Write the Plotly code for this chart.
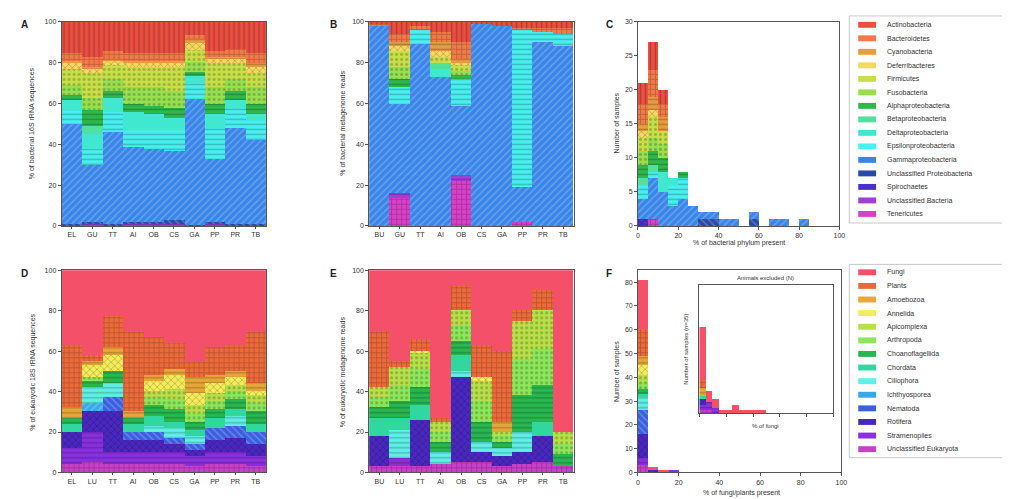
import plotly.graph_objects as go

W, H = 1010, 499

# ---------------- data ----------------
sites_a = ["EL", "GU", "TT", "AI", "OB", "CS", "GA", "PP", "PR", "TB"]
sites_b = ["BU", "GU", "TT", "AI", "OB", "CS", "GA", "PP", "PR", "TB"]
sites_d = ["EL", "LU", "TT", "AI", "OB", "CS", "GA", "PP", "PR", "TB"]
sites_e = ["BU", "LU", "TT", "AI", "OB", "CS", "GA", "PP", "PR", "TB"]

bac_taxa = ["Actinobacteria", "Bacteroidetes", "Cyanobacteria", "Deferribacteres",
            "Firmicutes", "Fusobacteria", "Alphaproteobacteria", "Betaproteobacteria",
            "Deltaproteobacteria", "Epsilonproteobacteria", "Gammaproteobacteria",
            "Unclassified Proteobacteria", "Spirochaetes", "Unclassified Bacteria",
            "Tenericutes"]
euk_taxa = ["Fungi", "Plants", "Amoebozoa", "Annelida", "Apicomplexa", "Arthropoda",
            "Choanoflagellida", "Chordata", "Ciliophora", "Ichthyosporea", "Nematoda",
            "Rotifera", "Stramenopiles", "Unclassified Eukaryota"]

# % per site (rows = sites, columns = taxa in legend order)
a_pct = [
    [15, 4, 1, 3, 8, 5, 2, 0, 5, 7, 49, 0.5, 0, 0, 0.5],
    [17, 5, 1, 2, 12, 6, 8, 4, 7, 8, 28, 1, 0, 1, 0],
    [14, 4, 1, 2, 7, 6, 3, 0, 7, 10, 45, 0.5, 0, 0.5, 0],
    [15, 4, 1, 2, 10, 8, 4, 0, 9, 8, 37, 1, 0, 1, 0],
    [15, 4, 1, 2, 10, 9, 4, 0, 8, 9, 36, 1, 0, 1, 0],
    [15, 4, 1, 2, 12, 8, 5, 0, 6, 10, 34, 2, 0, 1, 0],
    [6.5, 2, 2, 3, 6, 5, 2, 0, 4, 7, 62, 0.5, 0, 0, 0],
    [14, 3, 1, 2, 12, 8, 5, 0, 7, 15, 31, 1, 0, 1, 0],
    [13, 4, 1, 2, 8, 6, 4, 0, 4, 10, 47, 0.5, 0, 0.5, 0],
    [15, 5, 2, 3, 7, 8, 5, 0, 3, 10, 41, 1, 0, 0, 0],
]
b_pct = [
    [1, 1, 0, 0, 0, 0, 0, 0, 0, 0, 98, 0, 0, 0, 0],
    [6, 4, 2, 2, 8, 6, 4, 0, 0, 8, 44, 0, 0, 2, 14],
    [2, 2, 0, 0, 0, 0, 0, 0, 0, 7, 89, 0, 0, 0, 0],
    [5, 5, 4, 3, 3, 0, 0, 3, 4, 0, 73, 0, 0, 0, 0],
    [10, 8, 2, 1, 3, 2, 2, 0, 0, 13, 34, 0, 0, 3, 22],
    [1, 0, 0, 0, 0, 0, 0, 0, 0, 0, 99, 0, 0, 0, 0],
    [2, 0, 0, 0, 0, 0, 0, 0, 0, 0, 98, 0, 0, 0, 0],
    [3, 1, 0, 0, 0, 0, 0, 0, 0, 77, 17, 0, 0, 0, 2],
    [3, 2, 0, 0, 0, 0, 0, 0, 0, 5, 90, 0, 0, 0, 0],
    [3, 3, 0, 0, 0, 0, 0, 0, 0, 6, 88, 0, 0, 0, 0],
]
d_pct = [
    [37, 31, 5, 0, 0, 0, 3, 4, 0, 0, 0, 8, 8, 4],
    [42, 3, 2, 6, 0, 2, 3, 0, 8, 4, 0, 10, 15, 5],
    [23, 15, 4, 8, 0, 0, 6, 0, 7, 0, 7, 20, 6, 4],
    [30, 40, 3, 0, 0, 0, 3, 4, 0, 0, 4, 6, 6, 4],
    [33, 19, 3, 5, 3, 4, 5, 5, 3, 0, 4, 6, 6, 4],
    [36, 13, 3, 7, 5, 5, 6, 3, 5, 0, 3, 4, 6, 4],
    [45, 8, 8, 6, 4, 4, 4, 3, 4, 0, 3, 3, 5, 3],
    [38, 14, 4, 5, 4, 4, 4, 5, 0, 0, 6, 6, 6, 4],
    [37, 13, 3, 4, 3, 4, 5, 3, 5, 0, 6, 7, 6, 4],
    [30, 26, 4, 2, 4, 4, 6, 4, 0, 0, 6, 6, 5, 3],
]
e_pct = [
    [30, 28, 0, 0, 5, 5, 5, 9, 0, 0, 0, 15, 0, 3],
    [45, 3, 0, 0, 9, 8, 8, 6, 14, 0, 0, 0, 4, 3],
    [34, 6, 0, 1, 8, 9, 9, 7, 0, 0, 0, 23, 0, 3],
    [73, 2, 0, 0, 5, 5, 5, 0, 6, 0, 0, 0, 0, 4],
    [8, 12, 0, 0, 7, 8, 7, 8, 3, 0, 0, 42, 0, 5],
    [37, 16, 0, 2, 10, 10, 10, 0, 5, 0, 0, 5, 0, 5],
    [40, 35, 5, 0, 2, 3, 3, 0, 4, 0, 0, 5, 0, 3],
    [20, 5, 0, 0, 19, 18, 18, 0, 10, 0, 0, 6, 0, 4],
    [10, 10, 0, 0, 19, 18, 18, 7, 0, 0, 0, 13, 0, 5],
    [80, 0, 0, 0, 6, 5, 6, 0, 0, 0, 0, 0, 0, 3],
]

# histogram bins (% present), width 5
bin_left = list(range(0, 100, 5))
# C: number of samples per bin, per bacterial taxon (rows = taxa in legend order)
c_counts = [
    [3, 4, 2, 0, 0, 0, 0, 0, 0, 0, 0, 0, 0, 0, 0, 0, 0, 0, 0, 0],
    [3, 4, 2, 0, 0, 0, 0, 0, 0, 0, 0, 0, 0, 0, 0, 0, 0, 0, 0, 0],
    [1, 2, 2, 0, 0, 0, 0, 0, 0, 0, 0, 0, 0, 0, 0, 0, 0, 0, 0, 0],
    [1, 1, 0, 0, 0, 0, 0, 0, 0, 0, 0, 0, 0, 0, 0, 0, 0, 0, 0, 0],
    [2, 3, 2, 0, 0, 0, 0, 0, 0, 0, 0, 0, 0, 0, 0, 0, 0, 0, 0, 0],
    [2, 2, 2, 0, 0, 0, 0, 0, 0, 0, 0, 0, 0, 0, 0, 0, 0, 0, 0, 0],
    [2, 2, 2, 0, 1, 0, 0, 0, 0, 0, 0, 0, 0, 0, 0, 0, 0, 0, 0, 0],
    [1, 1, 0, 0, 0, 0, 0, 0, 0, 0, 0, 0, 0, 0, 0, 0, 0, 0, 0, 0],
    [0, 0, 3, 1, 0, 0, 0, 0, 0, 0, 0, 0, 0, 0, 0, 0, 0, 0, 0, 0],
    [2, 1, 0, 3, 3, 0, 0, 0, 0, 0, 0, 0, 0, 0, 0, 0, 0, 0, 0, 0],
    [3, 6, 5, 3, 4, 3, 1, 1, 1, 1, 0, 1, 0, 1, 1, 0, 1, 0, 0, 0],
    [0, 0, 0, 0, 0, 0, 1, 1, 0, 0, 0, 1, 0, 0, 0, 0, 0, 0, 0, 0],
    [1, 0, 0, 0, 0, 0, 0, 0, 0, 0, 0, 0, 0, 0, 0, 0, 0, 0, 0, 0],
    [0, 0, 0, 0, 0, 0, 0, 0, 0, 0, 0, 0, 0, 0, 0, 0, 0, 0, 0, 0],
    [0, 1, 0, 0, 0, 0, 0, 0, 0, 0, 0, 0, 0, 0, 0, 0, 0, 0, 0, 0],
]
# F: number of samples per bin, per eukaryotic taxon
f_counts = [
    [21, 1, 1, 0] + [0] * 16,
    [11, 0, 0, 0] + [0] * 16,
    [4, 0, 0, 0] + [0] * 16,
    [4, 0, 0, 0] + [0] * 16,
    [3, 0, 0, 0] + [0] * 16,
    [3, 0, 0, 0] + [0] * 16,
    [2, 0, 0, 0] + [0] * 16,
    [2, 0, 0, 0] + [0] * 16,
    [5, 0, 0, 0] + [0] * 16,
    [0, 0, 0, 0] + [0] * 16,
    [10, 0, 0, 0] + [0] * 16,
    [10, 1, 0, 0] + [0] * 16,
    [3, 0, 0, 1] + [0] * 16,
    [3, 0, 0, 0] + [0] * 16,
]
# inset of F: samples per bin of % fungi
inset_counts = [
    [19, 4, 3, 1, 1, 3, 1, 1, 1, 1] + [0] * 10,
    [3, 0, 0, 0, 0, 0, 0, 0, 0, 0] + [0] * 10,
    [3, 0, 0, 0, 0, 0, 0, 0, 0, 0] + [0] * 10,
    [0] * 20,
    [0] * 20,
    [0] * 20,
    [0] * 20,
    [1, 0, 0, 0, 0, 0, 0, 0, 0, 0] + [0] * 10,
    [0] * 20,
    [0] * 20,
    [0] * 20,
    [2, 0, 0, 0, 0, 0, 0, 0, 0, 0] + [0] * 10,
    [2, 3, 2, 0, 0, 0, 0, 0, 0, 0] + [0] * 10,
    [1, 1, 0, 0, 0, 0, 0, 0, 0, 0] + [0] * 10,
]

# ---------------- styles ----------------
bac_colors = ["#ec4e40", "#f07a48", "#e89c40", "#f4d860", "#c8e048", "#98e050",
              "#2fb84a", "#50e0a0", "#40e8d0", "#48f0f0", "#3a86e8", "#2a4aa8",
              "#4a30c8", "#a040d8", "#d840c8"]
bac_patterns = ["|", "+", "-", "x", ".", ".", "-", "", "", "-", "/", "\\", "x", "-", "+"]
euk_colors = ["#f4506a", "#ec6a3a", "#e8a838", "#f4ec5a", "#b8e048", "#8ce85a",
              "#28b850", "#30d8a0", "#60f0e8", "#3aa8e8", "#3a60e0", "#4a28c0",
              "#8a30e0", "#c840c8"]
euk_patterns = ["", "+", "-", "x", ".", ".", "-", "", "-", "/", "\\", "x", "-", "+"]


def shade(hexc, f):
    r, g, b = int(hexc[1:3], 16), int(hexc[3:5], 16), int(hexc[5:7], 16)
    if f < 1:
        r, g, b = int(r * f), int(g * f), int(b * f)
    else:
        r, g, b = [int(c + (255 - c) * (f - 1)) for c in (r, g, b)]
    return f"rgb({r},{g},{b})"


def px(x):
    return x / W


def py(y):
    return 1 - y / H


fig = go.Figure()


def add_stack(xa, ya, xs, series, colors, patterns, width=None):
    n = len(series)
    for i in reversed(range(n)):
        fg = shade(colors[i], 1.45) if patterns[i] in ("/", "\\") else shade(colors[i], 0.55)
        fig.add_trace(go.Bar(
            x=xs, y=series[i], width=width, xaxis=xa, yaxis=ya,
            marker=dict(color=colors[i], line=dict(width=0),
                        pattern=dict(shape=patterns[i], fgcolor=fg, size=5, solidity=0.3)),
            showlegend=False, hoverinfo="skip"))


def by_taxon(rows):
    return [list(col) for col in zip(*rows)]


centers = [b + 2.5 for b in bin_left]
add_stack("x", "y", sites_a, by_taxon(a_pct), bac_colors, bac_patterns)
add_stack("x2", "y2", sites_b, by_taxon(b_pct), bac_colors, bac_patterns)
add_stack("x3", "y3", centers, c_counts, bac_colors, bac_patterns, width=5)
add_stack("x4", "y4", sites_d, by_taxon(d_pct), euk_colors, euk_patterns)
add_stack("x5", "y5", sites_e, by_taxon(e_pct), euk_colors, euk_patterns)
add_stack("x6", "y6", centers, f_counts, euk_colors, euk_patterns, width=5)
add_stack("x7", "y7", centers, inset_counts, euk_colors, euk_patterns, width=5)

tickfont = dict(size=7, color="#333", family="Liberation Sans, Arial, sans-serif")
axbase = dict(showline=True, linecolor="#555", linewidth=0.8, mirror=True,
              ticks="outside", ticklen=3, tickwidth=0.8, tickcolor="#555",
              showgrid=False, zeroline=False, tickfont=tickfont)

boxes = {
    "": ([52, 258], [10, 217]),
    "2": ([362, 568], [10, 217]),
    "3": ([633, 836], [10, 217]),
    "4": ([52, 258], [262, 467]),
    "5": ([362, 568], [262, 467]),
    "6": ([633, 838], [262, 467]),
    "7": ([695, 830], [277, 407]),
}
layout = {}
for k, (xr, yr) in boxes.items():
    xd = [px(xr[0]), px(xr[1])]
    yd = [py(yr[1]), py(yr[0])]
    xa = dict(axbase, domain=xd, anchor="y" + k)
    ya = dict(axbase, domain=yd, anchor="x" + k)
    layout["xaxis" + k] = xa
    layout["yaxis" + k] = ya

for k in ["", "2", "4", "5"]:
    layout["xaxis" + k].update(type="category", range=[-0.5, 9.5], ticklen=2)
    layout["yaxis" + k].update(range=[0, 100], tickvals=[0, 20, 40, 60, 80, 100])
layout["xaxis3"].update(range=[0, 100], tickvals=[0, 20, 40, 60, 80, 100])
layout["yaxis3"].update(range=[0, 30], dtick=5)
layout["xaxis6"].update(range=[0, 100], tickvals=[0, 20, 40, 60, 80, 100])
layout["yaxis6"].update(range=[0, 85], tickvals=list(range(0, 90, 10)))
layout["xaxis7"].update(range=[0, 100], tickvals=[0, 20, 40, 60, 80, 100], showticklabels=False)
layout["yaxis7"].update(range=[0, 46], showticklabels=False, ticks="")

fig.update_layout(**layout)
fig.update_layout(width=W, height=H, margin=dict(l=0, r=0, t=0, b=0),
                  barmode="stack", bargap=0, plot_bgcolor="white", paper_bgcolor="white",
                  font=dict(family="Liberation Sans, Arial, sans-serif", size=7, color="#333"))

ann = []
shapes = []


def text(x, y, s, size=7, angle=0, xanchor="center", bold=False, color="#333"):
    ann.append(dict(x=px(x), y=py(y), xref="paper", yref="paper", text=f"<b>{s}</b>" if bold else s,
                    showarrow=False, textangle=angle, xanchor=xanchor, yanchor="middle",
                    font=dict(size=size, color=color)))


# panel letters
for letter, (x, y) in zip("ABCDEF", [(15, 13), (326, 13), (604, 13), (15, 265), (326, 265), (604, 265)]):
    text(x, y, letter, size=10, bold=True, color="#222")

# axis titles
text(23, 113, "% of bacterial 16S rRNA sequences", angle=-90)
text(336, 113, "% of bacterial metagenome reads", angle=-90)
text(612, 113, "Number of samples", angle=-90)
text(735, 234, "% of bacterial phylum present")
text(23, 365, "% of eukaryotic 18S rRNA sequences", angle=-90)
text(336, 365, "% of eukaryotic metagenome reads", angle=-90)
text(612, 365, "Number of samples", angle=-90)
text(737, 488, "% of fungi/plants present")
text(762, 270, "Animals excluded (N)", size=6)
text(762, 420, "% of fungi", size=6)
text(682, 342, "Number of samples (n=35)", angle=-90, size=6)

# manual legends
def legend(names, colors, y0, step, box):
    shapes.append(dict(type="rect", xref="paper", yref="paper", x0=px(box[0]), x1=px(box[1]),
                       y0=py(box[3]), y1=py(box[2]), line=dict(color="#bbb", width=0.8),
                       fillcolor="white", layer="below"))
    for i, (nm, c) in enumerate(zip(names, colors)):
        yc = y0 + i * step
        shapes.append(dict(type="rect", xref="paper", yref="paper", x0=px(855), x1=px(873),
                           y0=py(yc + 3), y1=py(yc - 3), line=dict(width=0), fillcolor=c))
        text(882, yc, nm, size=7, xanchor="left")


legend(bac_taxa, bac_colors, 13, 13.7, (846, 1006, 4, 214))
legend(euk_taxa, euk_colors, 264, 13.8, (846, 1006, 256, 452))

fig.update_layout(annotations=ann, shapes=shapes)
fig.write_html("out.html")
